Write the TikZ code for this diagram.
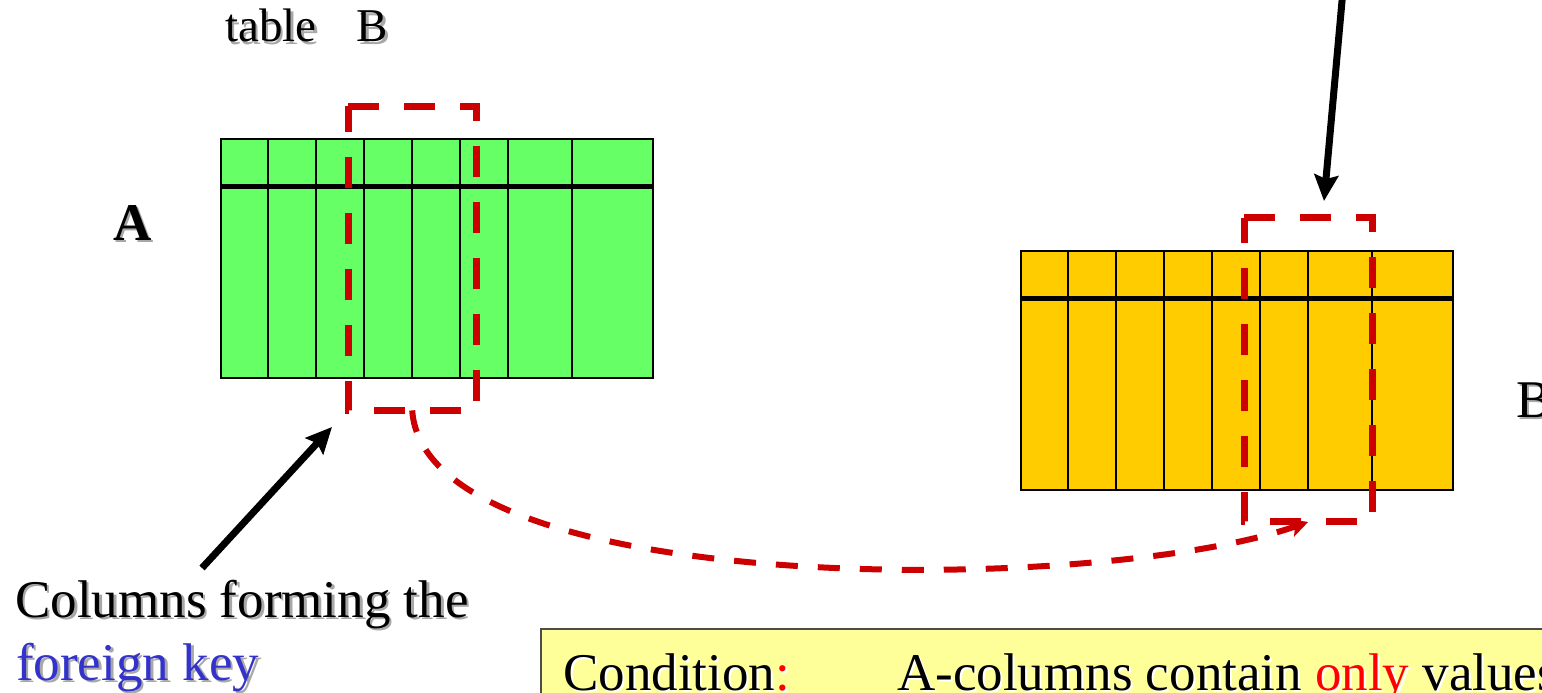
\documentclass[tikz,border=0pt]{standalone}
\usepackage{fontspec}
\setmainfont{Liberation Serif}
\usetikzlibrary{arrows.meta,calc}

\definecolor{tblgreen}{HTML}{66FF66}
\definecolor{tblyellow}{HTML}{FFCC00}
\definecolor{keyred}{HTML}{CC0000}
\definecolor{notefill}{HTML}{FFFF99}
\definecolor{fkblue}{HTML}{3333CC}
\definecolor{txtred}{HTML}{FF0000}
\definecolor{shade}{HTML}{A8A8A8}

\tikzset{
  tablebody/.style={draw=black, line width=2pt, inner sep=0pt,
    minimum width=432pt, minimum height=239pt, anchor=north west},
  colline/.style={line width=2pt},
  headline/.style={line width=5pt},
  keyframe/.style={inner sep=0pt, minimum width=128pt, minimum height=304pt, anchor=north west},
  keybox/.style={draw=keyred, line width=7pt, dash pattern=on 31pt off 25pt, line join=miter},
  linkarrow/.style={draw=keyred, line width=6pt, dash pattern=on 22pt off 20pt,
    -{Stealth[length=18pt,width=18pt,inset=4pt]}},
  pointer/.style={line width=7pt, -{Stealth[length=26pt,width=24pt,inset=4pt]}},
  lbl/.style={anchor=base west, inner sep=0pt, font=\fontsize{53pt}{63pt}\selectfont},
  smalllbl/.style={anchor=base west, inner sep=0pt, font=\fontsize{47pt}{56pt}\selectfont},
}

\begin{document}
\begin{tikzpicture}[x=1pt, y=-1pt]
  \useasboundingbox (0,0) rectangle (1542,693);
  \clip (0,0) rectangle (1542,693);

  % ---- table A (green) ----
  \node[tablebody, fill=tblgreen] (tabA) at (220,138) {};
  \foreach \cx in {48,96,144,192,240,288,352}
    \draw[colline] ($(tabA.north west)+(\cx,0)$) -- ($(tabA.south west)+(\cx,0)$);
  \draw[headline] ($(tabA.north west)+(0,48)$) -- ($(tabA.north east)+(0,48)$);

  % ---- table B (yellow) ----
  \node[tablebody, fill=tblyellow] (tabB) at (1020,250) {};
  \foreach \cx in {48,96,144,192,240,288,352}
    \draw[colline] ($(tabB.north west)+(\cx,0)$) -- ($(tabB.south west)+(\cx,0)$);
  \draw[headline] ($(tabB.north west)+(0,48)$) -- ($(tabB.north east)+(0,48)$);

  % ---- key column frames ----
  \node[keyframe] (selA) at (348,106) {};
  \draw[keybox] (selA.north west) -- (selA.north east) -- (selA.south east) -- (selA.south west) -- cycle;
  \node[keyframe] (selB) at (1244,217.5) {};
  \draw[keybox] (selB.north west) -- (selB.north east) -- (selB.south east) -- (selB.south west) -- cycle;

  % ---- reference link ----
  \draw[linkarrow] (selA.south) .. controls (425,600) and (1100,595) .. (selB.south);

  % ---- labels (with drop shadow) ----
  \node[smalllbl, text=shade] (tblLblSh) at (227.5,44.5) {table\hspace{40pt}B};
  \node[smalllbl] (tblLbl) at (225,42) {table\hspace{40pt}B};

  \node[lbl, text=shade, font=\fontsize{53pt}{63pt}\selectfont\bfseries] (lblASh) at (115.5,242.5) {A};
  \node[lbl, font=\fontsize{53pt}{63pt}\selectfont\bfseries] (lblA) at (113,240) {A};

  \node[lbl, text=shade] (lblBSh) at (1518.5,419.5) {B};
  \node[lbl] (lblB) at (1516,417) {B};

  \node[lbl, text=shade] (colsSh) at (17.5,619.5) {Columns forming the};
  \node[lbl] (cols) at (15,617) {Columns forming the};
  \node[lbl, text=shade] (fkSh) at (18.5,682.5) {foreign key};
  \node[lbl, text=fkblue] (fk) at (16,680) {foreign key};

  % ---- pointers ----
  \coordinate (colsTail) at (202,568);
  \coordinate (colsTip) at (332,427);
  \draw[pointer] (colsTail) -- (colsTip);
  \coordinate (topTail) at (1343,-10);
  \coordinate (topTip) at (1324,201);
  \draw[pointer] (topTail) -- (topTip);

  % ---- condition note ----
  \node[draw=black!70, line width=1.5pt, fill=notefill, anchor=north west, inner sep=0pt,
        minimum width=1100pt, minimum height=100pt] (note) at (540,628) {};
  \node[lbl, text=white] (condSh) at (565,692) {Condition:};
  \node[lbl] (cond) at (563,690) {Condition\textcolor{txtred}{:}};
  \node[lbl, text=white] (ruleSh) at (899,692) {A-columns contain only values};
  \node[lbl] (rule) at (897,690) {A-columns contain \textcolor{txtred}{only} values};
\end{tikzpicture}
\end{document}
